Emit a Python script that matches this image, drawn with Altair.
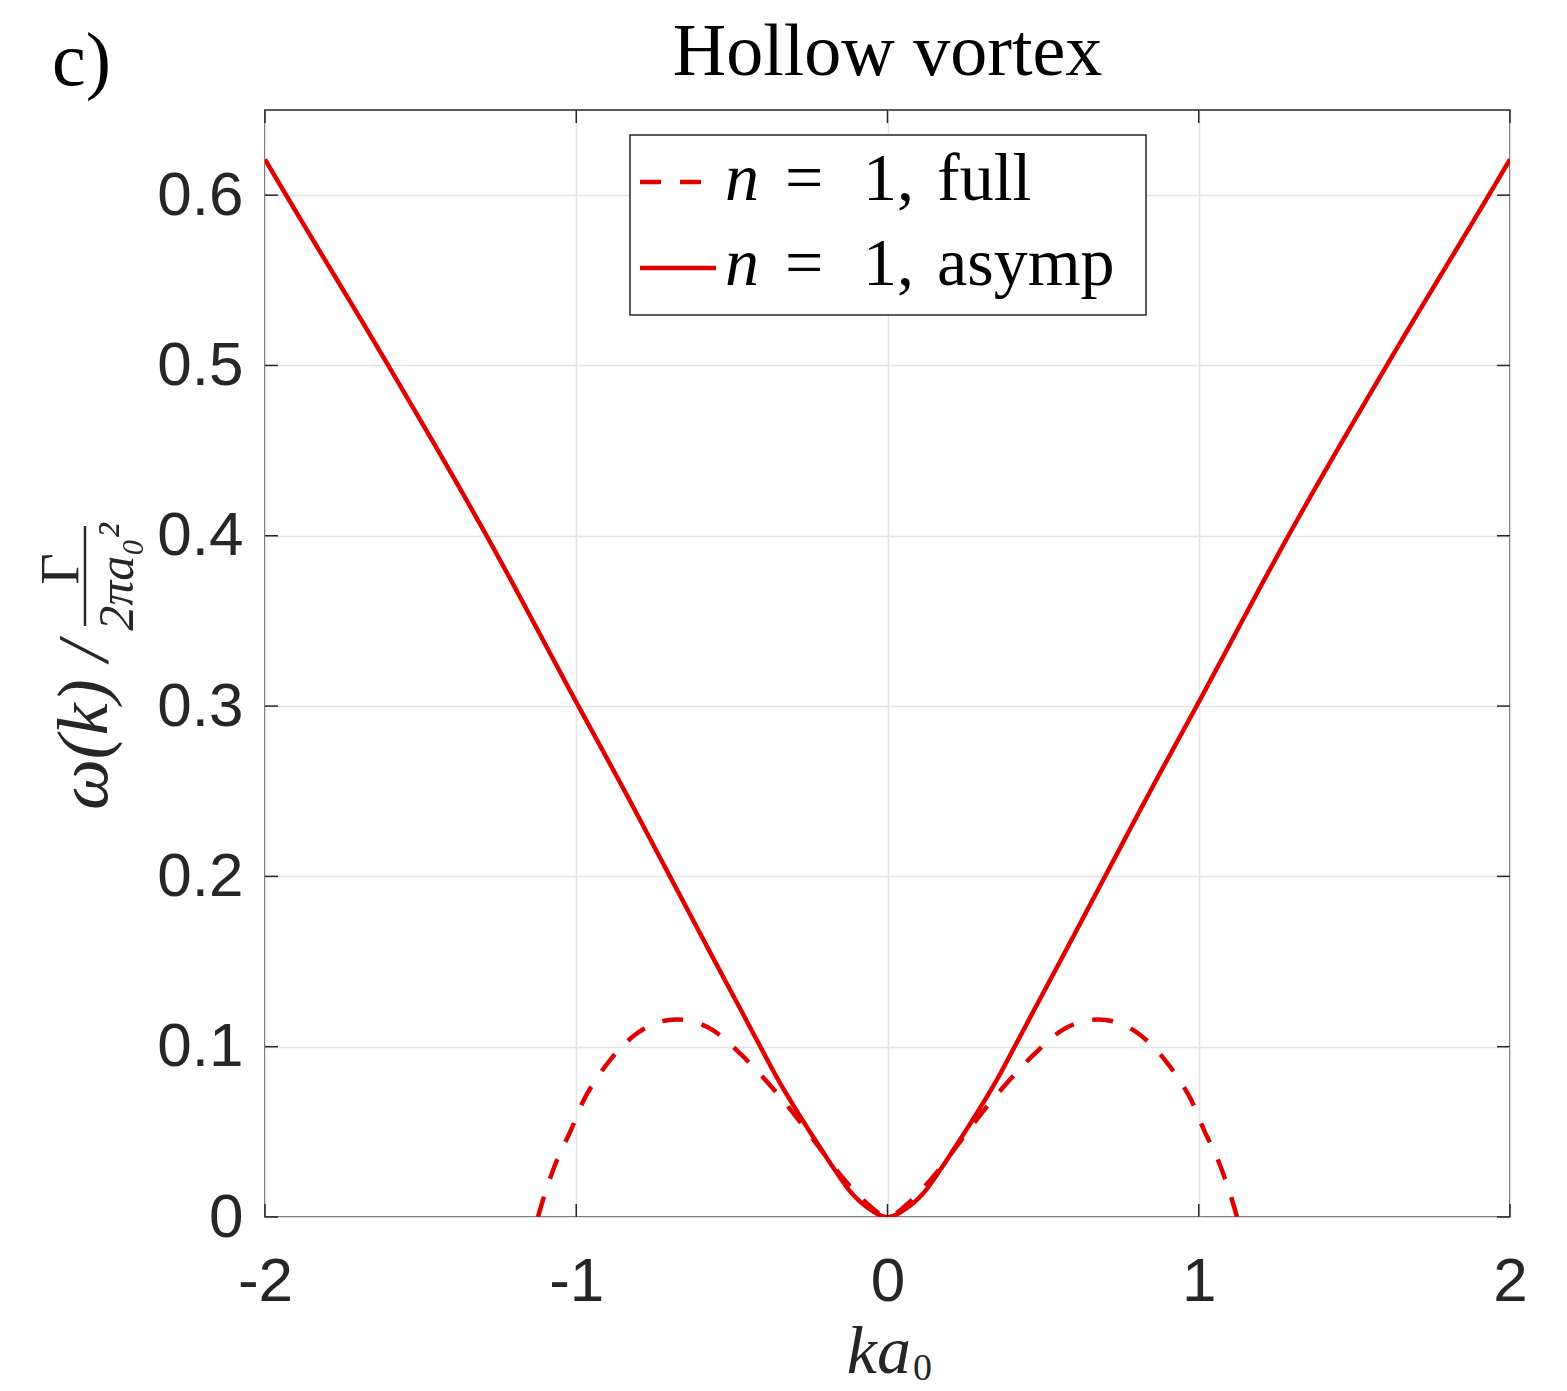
import altair as alt
import pandas as pd

RED = "#e00000"
TICK = "#262626"
W, H = 1245, 1107

# asymptotic curve (solid)
k_asymp = [-2.0, -1.932, -1.604, -1.288, -0.993, -0.85, -0.699, -0.56, -0.468, -0.41,
           -0.351, -0.287, -0.222, -0.169, -0.115, -0.06, 0.0,
           0.06, 0.115, 0.169, 0.222, 0.287, 0.351, 0.41, 0.468, 0.56,
           0.699, 0.85, 0.993, 1.288, 1.604, 1.932, 2.0]
w_asymp = [0.621, 0.6, 0.5, 0.4, 0.3, 0.252, 0.2, 0.152, 0.1205, 0.1005,
           0.0805, 0.061, 0.0423, 0.0276, 0.014, 0.005, 0.0,
           0.005, 0.014, 0.0276, 0.0423, 0.061, 0.0805, 0.1005, 0.1205, 0.152,
           0.2, 0.252, 0.3, 0.4, 0.5, 0.6, 0.621]

# full curve (dashed)
k_full = [-1.123, -1.107, -1.065, -1.017, -0.975, -0.943, -0.892, -0.811, -0.75, -0.679,
          -0.62, -0.564, -0.468, -0.378, -0.294, -0.22, -0.146, -0.066, 0.0,
          0.066, 0.146, 0.22, 0.294, 0.378, 0.468, 0.564, 0.62, 0.679, 0.75,
          0.811, 0.892, 0.943, 0.975, 1.017, 1.065, 1.107, 1.123]
w_full = [0.0, 0.010, 0.032, 0.051, 0.069, 0.079, 0.092, 0.107, 0.1135, 0.116,
          0.1145, 0.110, 0.095, 0.0775, 0.059, 0.041, 0.0235, 0.008, 0.0,
          0.008, 0.0235, 0.041, 0.059, 0.0775, 0.095, 0.110, 0.1145, 0.116, 0.1135,
          0.107, 0.092, 0.079, 0.069, 0.051, 0.032, 0.010, 0.0]

x_ticks = [-2, -1, 0, 1, 2]
y_ticks = [0, 0.1, 0.2, 0.3, 0.4, 0.5, 0.6]

legend_words = ["full", "asymp"]
legend_dash = [[21, 19], [1, 0]]

df = pd.concat([
    pd.DataFrame({"k": k_full, "w": w_full, "series": "full"}),
    pd.DataFrame({"k": k_asymp, "w": w_asymp, "series": "asymp"}),
])

xscale = alt.Scale(domain=[-2, 2], nice=False, zero=False)
yscale = alt.Scale(domain=[0, 0.65], nice=False, zero=False)

X_AXIS = alt.Axis(values=x_ticks, title=None, grid=True, ticks=False, tickSize=0, domain=False,
                  labelExpr="datum.value < 0 ? '-' + abs(datum.value) : '' + datum.value",
                  labelFont="Liberation Sans", labelFontSize=62, labelColor=TICK,
                  labelFlush=False, labelOverlap=False,
                  labelPadding=34, gridColor="#e3e3e3", gridWidth=1.5)
Y_AXIS = alt.Axis(values=y_ticks, title=None, grid=True, ticks=False, tickSize=0, domain=False,
                  labelExpr="'' + datum.value",
                  labelFont="Liberation Sans", labelFontSize=62, labelColor=TICK,
                  labelFlush=False, labelOverlap=False,
                  labelPadding=22, gridColor="#e3e3e3", gridWidth=1.5)

lines = alt.Chart(df).mark_line(strokeWidth=4.5, color=RED, clip=True, interpolate="monotone").encode(
    x=alt.X("k:Q", scale=xscale, axis=X_AXIS),
    y=alt.Y("w:Q", scale=yscale, axis=Y_AXIS),
    strokeDash=alt.StrokeDash("series:N",
                              scale=alt.Scale(domain=legend_words, range=legend_dash),
                              legend=None),
)

xt = pd.DataFrame({"k": x_ticks})
yt = pd.DataFrame({"w": y_ticks})
TL = 13
tick_b = alt.Chart(xt).mark_rule(color=TICK, strokeWidth=1.5).encode(
    x=alt.X("k:Q", scale=xscale, axis=X_AXIS), y=alt.value(H), y2=alt.value(H - TL))
tick_t = alt.Chart(xt).mark_rule(color=TICK, strokeWidth=1.5).encode(
    x=alt.X("k:Q", scale=xscale, axis=X_AXIS), y=alt.value(0), y2=alt.value(TL))
tick_l = alt.Chart(yt).mark_rule(color=TICK, strokeWidth=1.5).encode(
    y=alt.Y("w:Q", scale=yscale, axis=Y_AXIS), x=alt.value(0), x2=alt.value(TL))
tick_r = alt.Chart(yt).mark_rule(color=TICK, strokeWidth=1.5).encode(
    y=alt.Y("w:Q", scale=yscale, axis=Y_AXIS), x=alt.value(W), x2=alt.value(W - TL))


def label(text, x, y, size, align="left", baseline="alphabetic", angle=0, style="normal",
          font="Liberation Serif", color="black"):
    return alt.Chart(pd.DataFrame({"t": [text]})).mark_text(
        align=align, baseline=baseline, angle=angle, fontSize=size, font=font,
        fontStyle=style, color=color).encode(text="t:N", x=alt.value(x), y=alt.value(y))


# legend (box, samples, labels)
one = pd.DataFrame({"t": [0]})
leg_box = alt.Chart(one).mark_rect(fill="white", stroke=TICK, strokeWidth=1.5).encode(
    x=alt.value(365), x2=alt.value(881), y=alt.value(25), y2=alt.value(205))
leg_layers = [leg_box]
row_sym_y = [72, 158]
row_base_y = [90, 175]
for i, word in enumerate(legend_words):
    leg_layers.append(alt.Chart(one).mark_rule(color=RED, strokeWidth=4.5, strokeDash=legend_dash[i]).encode(
        x=alt.value(375), x2=alt.value(451), y=alt.value(row_sym_y[i])))
    leg_layers.append(label("n", 460, row_base_y[i], 68, style="italic"))
    leg_layers.append(label("=", 520, row_base_y[i], 68))
    leg_layers.append(label("1,", 598, row_base_y[i], 68))
    leg_layers.append(label(word, 672, row_base_y[i], 68))

panel = label("c)", -213, -25, 76)
title = label("Hollow vortex", W / 2, -35, 74, align="center")
xlab1 = label("ka", 646, 1263, 68, align="right", style="italic", color=TICK)
xlab2 = label("0", 648, 1270, 38, align="left", color=TICK)
ylab1 = label("ω(k) /", -158, 700, 72, align="left", angle=270, style="italic", color=TICK)
ylab_num = label("Γ", -187, 459, 54, align="center", angle=270, color=TICK)
ylab_den = label("2πa₀²", -132, 467, 50, align="center", angle=270, style="italic", color=TICK)
ybar = alt.Chart(one).mark_rule(color=TICK, strokeWidth=2.5).encode(
    x=alt.value(-180), y=alt.value(416), y2=alt.value(516))

chart = alt.layer(
    lines, tick_b, tick_t, tick_l, tick_r, *leg_layers,
    panel, title, xlab1, xlab2, ylab1, ylab_num, ylab_den, ybar,
).properties(
    width=W, height=H,
    padding={"left": 257, "top": 102, "right": 40, "bottom": 172},
    autosize=alt.AutoSizeParams(type="none"),
    background="white",
).configure_view(stroke=TICK, strokeWidth=1.5)

chart.save("out.html", embed_options={"renderer": "svg", "actions": False})
